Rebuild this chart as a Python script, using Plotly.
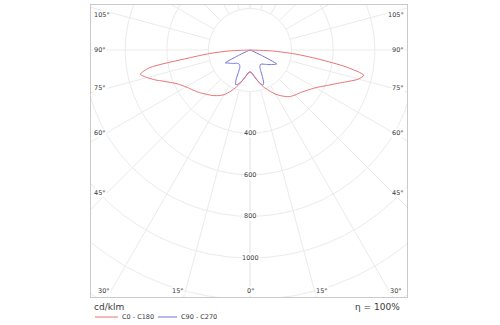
import numpy as np
import plotly.graph_objects as go

# Luminous intensity distribution, cd/klm, by vertical angle gamma (deg from nadir)
gamma_red = [0, 5, 10, 15, 20, 25, 30, 35, 40, 45, 50, 55, 60, 65, 70,
             72.5, 75, 77.5, 80, 82.5, 85, 87.5, 90]
c0 = [105, 112, 132, 158, 188, 215, 245, 270, 293, 306, 318, 337, 363, 405, 462,
      500, 540, 560, 470, 330, 215, 110, 0]
c180 = [105, 112, 132, 158, 188, 218, 248, 268, 285, 300, 318, 335, 355, 385, 440,
        478, 512, 540, 490, 300, 195, 100, 0]

gamma_blue = [0, 5, 10, 15, 20, 22.5, 25, 27.5, 30, 35, 40, 45, 50, 55, 60,
              62.5, 65, 67.5, 70, 75, 80, 85, 90]
c90 = [105, 112, 132, 158, 180, 172, 140, 110, 95, 86, 88, 97, 108, 122, 138,
       145, 60, 12, 0, 0, 0, 0, 0]
c270 = [105, 112, 132, 156, 176, 180, 160, 120, 98, 87, 86, 90, 100, 112, 125,
        134, 55, 10, 0, 0, 0, 0, 0]

ring_values = [200, 400, 600, 800, 1000, 1200, 1400, 1600, 1800, 2000]
ring_labels = [400, 600, 800, 1000]
side_angles = [45, 60, 75, 90, 105]
bottom_angles = [0, 15, 30]

legend_names = ["C0 - C180", "C90 - C270"]
unit_text = "cd/klm"
eta_text = "η = 100%"

RED = "#e77474"
BLUE = "#7373e3"
GRID = "#ebebeb"
FRAME = "#cacaca"
TEXT = "#3a3a3a"
FONT = "DejaVu Sans"

# page geometry (pixels) and scale
W, H = 500, 325
BOX_L, BOX_R, BOX_T, BOX_B = 91, 407, 5, 297
CX, CY = 250, 50           # pole of the diagram
K = 0.208                  # pixels per cd/klm


def to_xy(gamma, r, side):
    g = np.radians(np.asarray(gamma, dtype=float))
    r = np.asarray(r, dtype=float)
    return side * r * np.sin(g), -r * np.cos(g)


def closed_curve(gamma, right, left):
    xr, yr = to_xy(gamma, right, 1)
    xl, yl = to_xy(gamma, left, -1)
    return np.concatenate([xr, xl[::-1]]), np.concatenate([yr, yl[::-1]])


def px_to_data(px, py):
    return (px - CX) / K, (CY - py) / K


fig = go.Figure()

# grid circles
t = np.linspace(0, 2 * np.pi, 721)
for rv in ring_values:
    fig.add_trace(go.Scatter(x=rv * np.cos(t), y=rv * np.sin(t), mode="lines",
                             line=dict(color=GRID, width=1), hoverinfo="skip",
                             showlegend=False))

# spokes every 15 degrees, starting at the first ring
for a in range(0, 181, 15):
    for side in (1, -1):
        xs, ys = to_xy([a, a], [200, 3000], side)
        fig.add_trace(go.Scatter(x=xs, y=ys, mode="lines",
                                 line=dict(color=GRID, width=1), hoverinfo="skip",
                                 showlegend=False))

# photometric curves (red drawn last so it sits on top)
xb, yb = closed_curve(gamma_blue, c90, c270)
fig.add_trace(go.Scatter(x=xb, y=yb, mode="lines", name=legend_names[1],
                         line=dict(color=BLUE, width=1, shape="spline", smoothing=0.5),
                         showlegend=False))
xr, yr = closed_curve(gamma_red, c0, c180)
fig.add_trace(go.Scatter(x=xr, y=yr, mode="lines", name=legend_names[0],
                         line=dict(color=RED, width=1, shape="spline", smoothing=0.7),
                         showlegend=False))

annotations = []
small = dict(family=FONT, size=6.5, color=TEXT)

# intensity ring labels on the nadir axis
for rv in ring_labels:
    annotations.append(dict(x=0, y=-rv, xref="x", yref="y", text=str(rv),
                            xanchor="center", yanchor="middle",
                            showarrow=False, bgcolor="white", borderpad=0,
                            font=small))

# angle labels along the left and right edges
for a in side_angles:
    g = np.radians(a)
    y_px = CY + 143 * np.cos(g) / np.sin(g)
    y_px = max(y_px, BOX_T + 10)
    _, yd = px_to_data(0, y_px)
    xl, _ = px_to_data(BOX_L + 2, 0)
    xr_, _ = px_to_data(BOX_R - 2, 0)
    annotations.append(dict(x=xl, y=yd, xref="x", yref="y", text=f"{a}°",
                            xanchor="left", yanchor="middle", showarrow=False,
                            bgcolor="white", borderpad=0, font=small))
    annotations.append(dict(x=xr_, y=yd, xref="x", yref="y", text=f"{a}°",
                            xanchor="right", yanchor="middle", showarrow=False,
                            bgcolor="white", borderpad=0, font=small))

# angle labels along the bottom edge
label_py = BOX_B - 6
for a in bottom_angles:
    dx = (label_py - CY) * np.tan(np.radians(a))
    for side in ((1,) if a == 0 else (1, -1)):
        px = CX + side * (dx + (7 if a else 0))
        px = min(max(px, BOX_L + 9), BOX_R - 9)
        xd, yd = px_to_data(px, label_py)
        annotations.append(dict(x=xd, y=yd, xref="x", yref="y", text=f"{a}°",
                                xanchor="center", yanchor="middle",
                                showarrow=False, bgcolor="white", borderpad=0,
                                font=small))


def paper(px, py):
    return (px - BOX_L) / (BOX_R - BOX_L), (BOX_B - py) / (BOX_B - BOX_T)


px_, py_ = paper(92, 307)
annotations.append(dict(x=px_, y=py_, xref="paper", yref="paper", text=unit_text,
                        xanchor="left", yanchor="middle", showarrow=False,
                        font=dict(family=FONT, size=9, color=TEXT)))
px_, py_ = paper(402, 307)
annotations.append(dict(x=px_, y=py_, xref="paper", yref="paper", text=eta_text,
                        xanchor="right", yanchor="middle", showarrow=False,
                        font=dict(family=FONT, size=9, color=TEXT)))

# legend entries
shapes = []
for (x0, x1, col, name) in [(95, 118, RED, legend_names[0]),
                            (158, 177, BLUE, legend_names[1])]:
    a0 = paper(x0, 317)
    a1 = paper(x1, 317)
    shapes.append(dict(type="line", xref="paper", yref="paper",
                       x0=a0[0], x1=a1[0], y0=a0[1], y1=a1[1],
                       line=dict(color=col, width=1)))
    tx, ty = paper(x1 + 1.5, 317)
    annotations.append(dict(x=tx, y=ty, xref="paper", yref="paper", text=name,
                            xanchor="left", yanchor="middle", showarrow=False,
                            font=small))

x0d, _ = px_to_data(BOX_L, 0)
x1d, _ = px_to_data(BOX_R, 0)
_, y0d = px_to_data(0, BOX_B)
_, y1d = px_to_data(0, BOX_T)

axis_common = dict(showgrid=False, zeroline=False, showticklabels=False, ticks="",
                   showline=True, mirror=True, linecolor=FRAME, linewidth=1,
                   fixedrange=True)
fig.update_layout(
    width=W, height=H,
    margin=dict(l=BOX_L, r=W - BOX_R, t=BOX_T, b=H - BOX_B, pad=0),
    paper_bgcolor="white", plot_bgcolor="white",
    xaxis=dict(range=[x0d, x1d], **axis_common),
    yaxis=dict(range=[y0d, y1d], **axis_common),
    annotations=annotations, shapes=shapes, showlegend=False,
)

fig.write_html("out.html")
